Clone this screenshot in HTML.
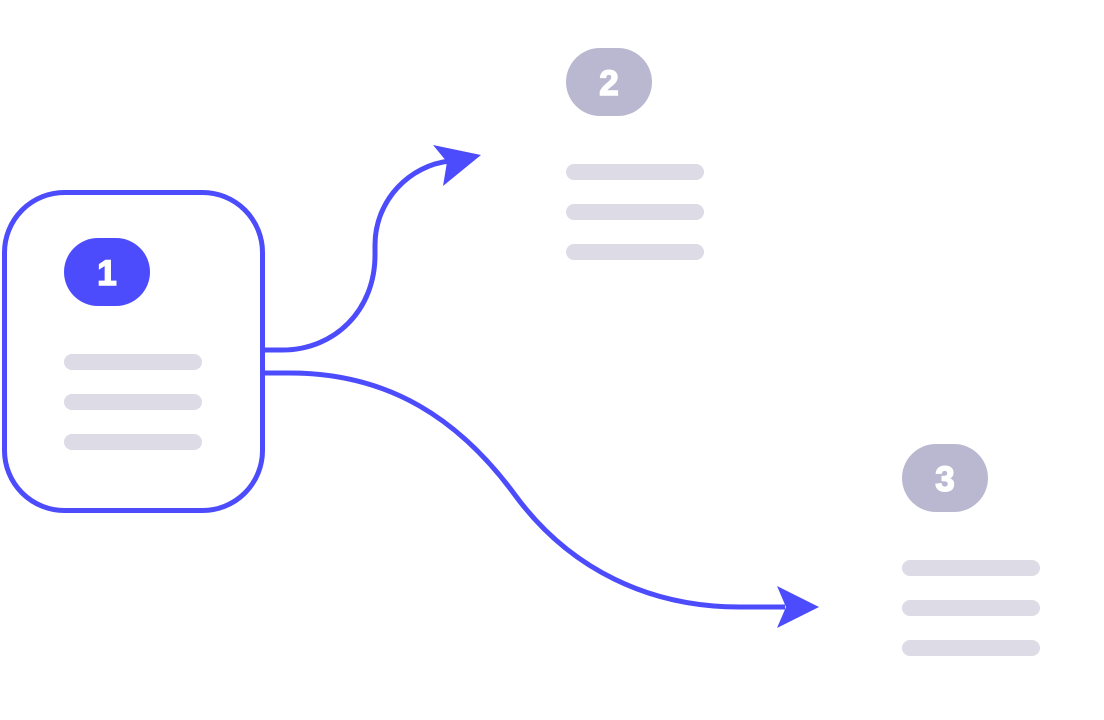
<!DOCTYPE html>
<html><head><meta charset="utf-8"><style>
html,body{margin:0;padding:0;background:#fff;width:1104px;height:720px;overflow:hidden}
</style></head><body>
<svg width="1104" height="720" viewBox="0 0 1104 720" xmlns="http://www.w3.org/2000/svg">
<rect x="4.5" y="192.5" width="258" height="318" rx="60" fill="#fff" stroke="#4c4cfc" stroke-width="5"/>
<rect x="64" y="238" width="86" height="68" rx="34" fill="#4c4cfc"/>
<text x="107" y="285" text-anchor="middle" font-family="Liberation Sans, sans-serif" font-weight="bold" font-size="35" fill="#fff" stroke="#fff" stroke-width="1.5">1</text>
<g fill="#dcdbe6">
<rect x="64" y="354" width="138" height="16" rx="8"/>
<rect x="64" y="394" width="138" height="16" rx="8"/>
<rect x="64" y="434" width="138" height="16" rx="8"/>
<rect x="566" y="164" width="138" height="16" rx="8"/>
<rect x="566" y="204" width="138" height="16" rx="8"/>
<rect x="566" y="244" width="138" height="16" rx="8"/>
<rect x="902" y="560" width="138" height="16" rx="8"/>
<rect x="902" y="600" width="138" height="16" rx="8"/>
<rect x="902" y="640" width="138" height="16" rx="8"/>
</g>
<rect x="566" y="48" width="86" height="68" rx="34" fill="#b9b8d0"/>
<text x="609" y="95" text-anchor="middle" font-family="Liberation Sans, sans-serif" font-weight="bold" font-size="35" fill="#fff" stroke="#fff" stroke-width="1.5">2</text>
<rect x="902" y="444" width="86" height="68" rx="34" fill="#b9b8d0"/>
<text x="945" y="491" text-anchor="middle" font-family="Liberation Sans, sans-serif" font-weight="bold" font-size="35" fill="#fff" stroke="#fff" stroke-width="1.5">3</text>
<g fill="none" stroke="#4c4cfc" stroke-width="5">
<path d="M264 350 H282 C335 350 375 310 375 255 V245 C375 200 410 165 450 161"/>
<path d="M264 373 H290 C390 373 460 420 515 495 C570 570 650 607 740 607 H785"/>
</g>
<g fill="#4c4cfc">
<polygon points="481,155 433,145 447,162 443,186"/>
<polygon points="819,607 777,586 786,607 777,628"/>
</g>
</svg>
</body></html>
